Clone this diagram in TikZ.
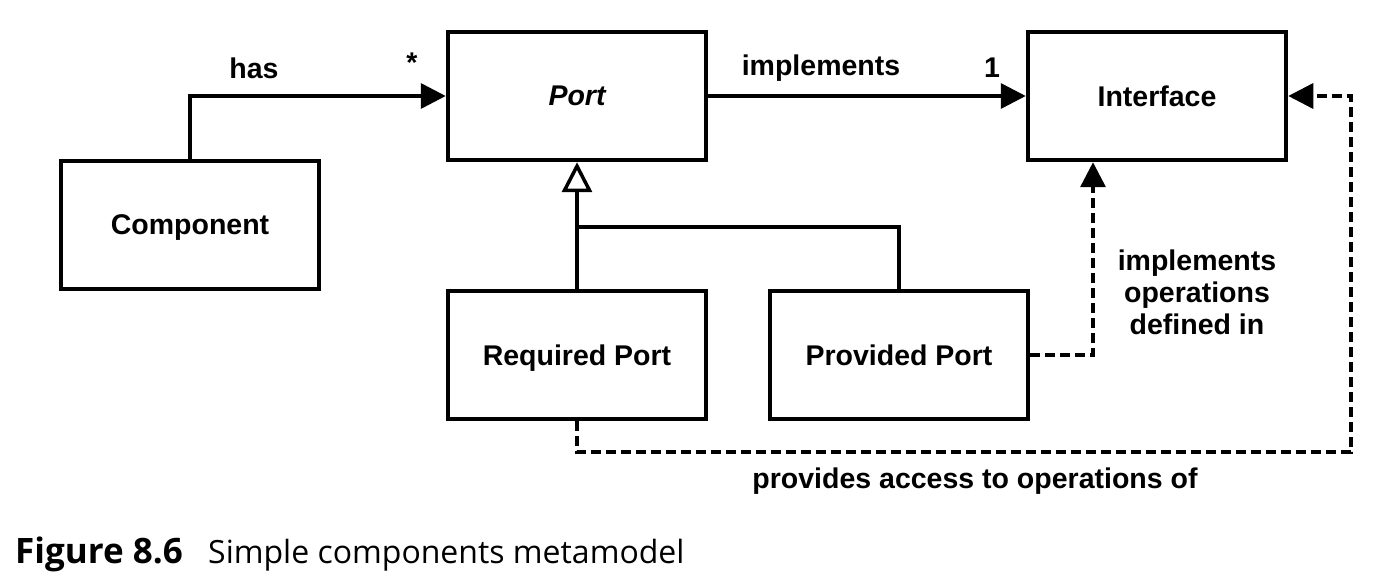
\documentclass[tikz,border=0pt]{standalone}
\usepackage{fontspec}
\setmainfont{Liberation Sans}
\newfontfamily\capfont{Open Sans}
\usetikzlibrary{arrows.meta}
\begin{document}
\begin{tikzpicture}[x=1pt,y=-1pt,
  box/.style={draw,line width=4.5pt,minimum width=258pt,minimum height=128pt,inner sep=0pt,text depth=0pt,font=\fontsize{28.5}{30}\selectfont\bfseries},
  conn/.style={line width=3.5pt},
  dconn/.style={line width=3.5pt,dash pattern=on 10pt off 5pt},
  tip/.style={-{Triangle[length=25pt,width=25pt]}},
  lbl/.style={font=\fontsize{28.5}{32}\selectfont\bfseries,inner sep=0pt,align=center}]
\useasboundingbox (0,0) rectangle (1392,588);
\node[box] (comp) at (190,225) {Component};
\node[box] (port) at (577,96) {\itshape Port};
\node[box] (iface) at (1157,96) {Interface};
\node[box] (req) at (577,355) {Required Port};
\node[box] (prov) at (899,355) {Provided Port};
% has
\draw[conn,tip] (comp.north) |- (port.west);
\node[lbl] (has) at (254,68) {has};
\node[lbl] (star) at (412,63) {*};
% implements
\draw[conn,tip] (port.east) -- (iface.west);
\node[lbl] (impl) at (821,68) {implements};
\node[lbl] (one) at (992,68) {1};
% generalization
\coordinate (j) at (577,227);
\draw[conn,-{Triangle[open,length=30pt,width=30pt]}] (req.north) -- (port.south);
\draw[conn] (j) -| (prov.north);
% provided -> interface
\draw[dconn,tip] (prov.east) -| ([xshift=-64pt]iface.south);
\node[lbl] (impops) at (1197,292) {implements\\operations\\defined in};
% required -> interface
\coordinate (rc) at (1351,452);
\draw[dconn,tip] (req.south) |- (rc) |- (iface.east);
\node[lbl] (prov2) at (975,481) {provides access to operations of};
% caption
\node[anchor=base west,inner sep=0pt,font=\fontsize{35}{38}\selectfont\capfont\bfseries] (fig) at (15,563) {Figure 8.6};
\node[anchor=base west,inner sep=0pt,font=\fontsize{32}{36}\selectfont\capfont] (cap) at (208,563) {Simple components metamodel};
\end{tikzpicture}
\end{document}
